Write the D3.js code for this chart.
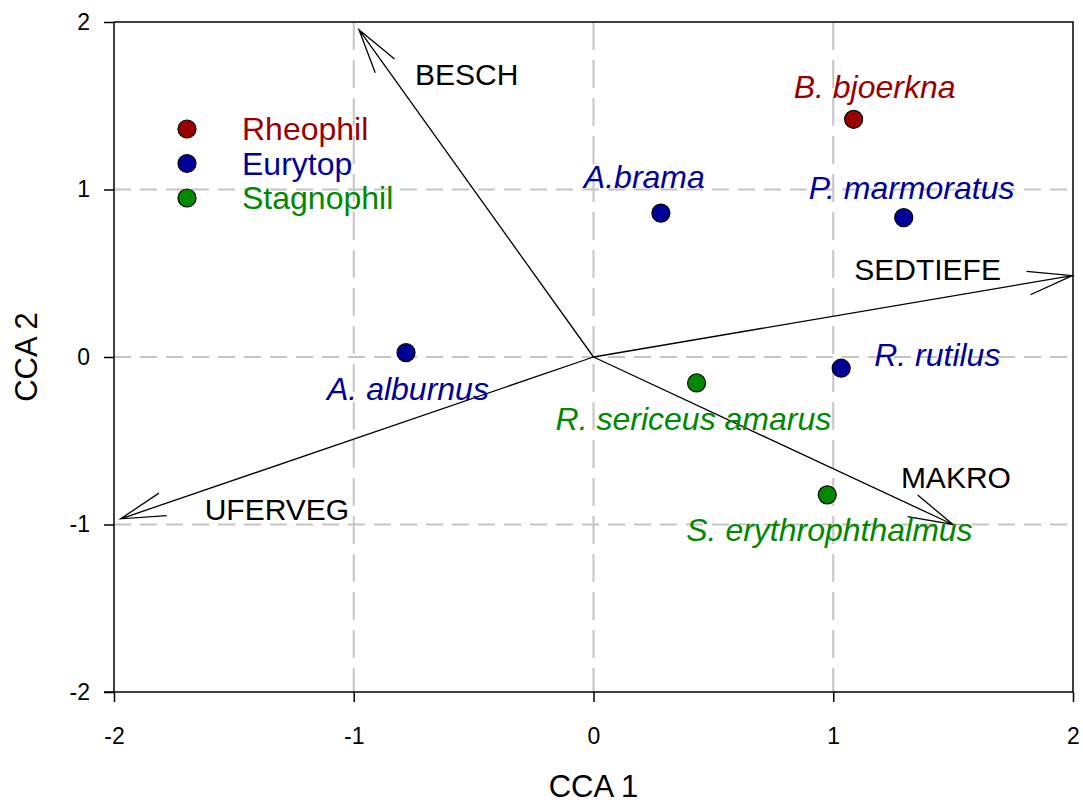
<!DOCTYPE html>
<html>
<head>
<meta charset="utf-8">
<script src="https://cdn.jsdelivr.net/npm/d3@7"></script>
<style>
  html, body { margin: 0; padding: 0; background: #fff; }
  svg { display: block; font-family: Arial, "Liberation Sans", sans-serif; }
</style>
</head>
<body>
<svg id="chart" width="1083" height="803"></svg>
<script>
// ---- data ----
const groups = ["Rheophil", "Eurytop", "Stagnophil"];
const speciesNames = ["B. bjoerkna", "A.brama", "P. marmoratus", "A. alburnus", "R. rutilus", "R. sericeus amarus", "S. erythrophthalmus"];
const speciesGroup = ["Rheophil", "Eurytop", "Eurytop", "Eurytop", "Eurytop", "Stagnophil", "Stagnophil"];
const speciesCCA1 = [1.085, 0.281, 1.294, -0.782, 1.033, 0.430, 0.975];
const speciesCCA2 = [1.419, 0.859, 0.832, 0.026, -0.067, -0.155, -0.823];
const envNames = ["BESCH", "SEDTIEFE", "MAKRO", "UFERVEG"];
const envCCA1 = [-0.978, 1.997, 1.499, -1.972];
const envCCA2 = [1.954, 0.486, -1.000, -0.966];
const xTicks = [-2, -1, 0, 1, 2];
const yTicks = [-2, -1, 0, 1, 2];
const gridX = [-1, 0, 1];
const gridY = [-1, 0, 1];

// ---- layout / style (not data) ----
const groupColor = { "Rheophil": "#990000", "Eurytop": "#000099", "Stagnophil": "#008800" };
const speciesLabelOffset = {
  "B. bjoerkna": [-60, -21],
  "A.brama": [-77, -25],
  "P. marmoratus": [-95, -19],
  "A. alburnus": [-79, 47],
  "R. rutilus": [33, -2],
  "R. sericeus amarus": [-141, 47],
  "S. erythrophthalmus": [-141, 46]
};
const envLabelOffset = {
  "BESCH": [56, 55],
  "SEDTIEFE": [-218, 4],
  "MAKRO": [-52, -37],
  "UFERVEG": [84, 1]
};

const margin = { left: 114, right: 1073, top: 22, bottom: 692 };
const svg = d3.select("#chart");

const x = d3.scaleLinear().domain([-2, 2]).range([margin.left, margin.right]);
const y = d3.scaleLinear().domain([-2, 2]).range([margin.bottom, margin.top]);

// grid
svg.append("g").selectAll("line").data(gridX).join("line")
  .attr("x1", d => x(d)).attr("x2", d => x(d))
  .attr("y1", margin.top).attr("y2", margin.bottom)
  .attr("stroke", "#c4c4c4").attr("stroke-width", 2)
  .attr("stroke-dasharray", "28,10");
svg.append("g").selectAll("line").data(gridY).join("line")
  .attr("y1", d => y(d)).attr("y2", d => y(d))
  .attr("x1", margin.left).attr("x2", margin.right)
  .attr("stroke", "#c4c4c4").attr("stroke-width", 2)
  .attr("stroke-dasharray", "17,9");

// frame (top + right)
svg.append("path")
  .attr("d", `M${margin.left},${margin.top}H${margin.right}V${margin.bottom}`)
  .attr("fill", "none").attr("stroke", "#000").attr("stroke-width", 1.5);

// axes
const fmt = d => String(d);
const xAxis = d3.axisBottom(x).tickValues(xTicks).tickSize(10).tickPadding(26).tickFormat(fmt);
const yAxis = d3.axisLeft(y).tickValues(yTicks).tickSize(10).tickPadding(14).tickFormat(fmt);
const gx = svg.append("g").attr("transform", `translate(0,${margin.bottom})`).call(xAxis);
const gy = svg.append("g").attr("transform", `translate(${margin.left},0)`).call(yAxis);
[gx, gy].forEach(g => {
  g.select(".domain").attr("stroke-width", 1.5);
  g.selectAll(".tick line").attr("stroke-width", 1.5);
  g.selectAll(".tick text").attr("font-size", 23).attr("font-family", "Arial, 'Liberation Sans', sans-serif").attr("fill", "#000");
});
gx.select(".domain").attr("d", `M${margin.left - 10},0H${margin.right}`);
gy.select(".domain").attr("d", `M0,${margin.top}V${margin.bottom}`);

// axis titles
svg.append("text").attr("x", (margin.left + margin.right) / 2).attr("y", 797)
  .attr("text-anchor", "middle").attr("font-size", 31).text("CCA 1");
svg.append("text").attr("transform", `translate(37,${(margin.top + margin.bottom) / 2}) rotate(-90)`)
  .attr("text-anchor", "middle").attr("font-size", 31).text("CCA 2");

// environmental arrows
const env = envNames.map((n, i) => ({ name: n, cx: envCCA1[i], cy: envCCA2[i] }));
const arrowLen = 46, arrowHalf = 15 * Math.PI / 180;
const ga = svg.append("g");
env.forEach(e => {
  const x0 = x(0), y0 = y(0), x1 = x(e.cx), y1 = y(e.cy);
  const ang = Math.atan2(y0 - y1, x0 - x1);
  const h1 = [x1 + arrowLen * Math.cos(ang + arrowHalf), y1 + arrowLen * Math.sin(ang + arrowHalf)];
  const h2 = [x1 + arrowLen * Math.cos(ang - arrowHalf), y1 + arrowLen * Math.sin(ang - arrowHalf)];
  ga.append("path")
    .attr("d", `M${x0},${y0}L${x1},${y1}M${h1[0]},${h1[1]}L${x1},${y1}L${h2[0]},${h2[1]}`)
    .attr("fill", "none").attr("stroke", "#000").attr("stroke-width", 1.3);
  const off = envLabelOffset[e.name];
  ga.append("text").attr("x", x1 + off[0]).attr("y", y1 + off[1])
    .attr("font-size", 30).attr("fill", "#000").text(e.name);
});

// species points
const species = speciesNames.map((n, i) => ({ name: n, group: speciesGroup[i], cx: speciesCCA1[i], cy: speciesCCA2[i] }));
const gs = svg.append("g");
gs.selectAll("circle").data(species).join("circle")
  .attr("cx", d => x(d.cx)).attr("cy", d => y(d.cy)).attr("r", 9)
  .attr("fill", d => groupColor[d.group]).attr("stroke", "#000").attr("stroke-width", 1.2);
gs.selectAll("text").data(species).join("text")
  .attr("x", d => x(d.cx) + speciesLabelOffset[d.name][0])
  .attr("y", d => y(d.cy) + speciesLabelOffset[d.name][1])
  .attr("font-size", 32).attr("font-style", "italic")
  .attr("fill", d => groupColor[d.group]).text(d => d.name);

// legend
const lg = svg.append("g").attr("transform", "translate(187,129)");
groups.forEach((g, i) => {
  lg.append("circle").attr("cx", 0).attr("cy", i * 34.5).attr("r", 9)
    .attr("fill", groupColor[g]).attr("stroke", "#000").attr("stroke-width", 1.2);
  lg.append("text").attr("x", 55).attr("y", i * 34.5 + 11)
    .attr("font-size", 32).attr("fill", groupColor[g]).text(g);
});
</script>
</body>
</html>
